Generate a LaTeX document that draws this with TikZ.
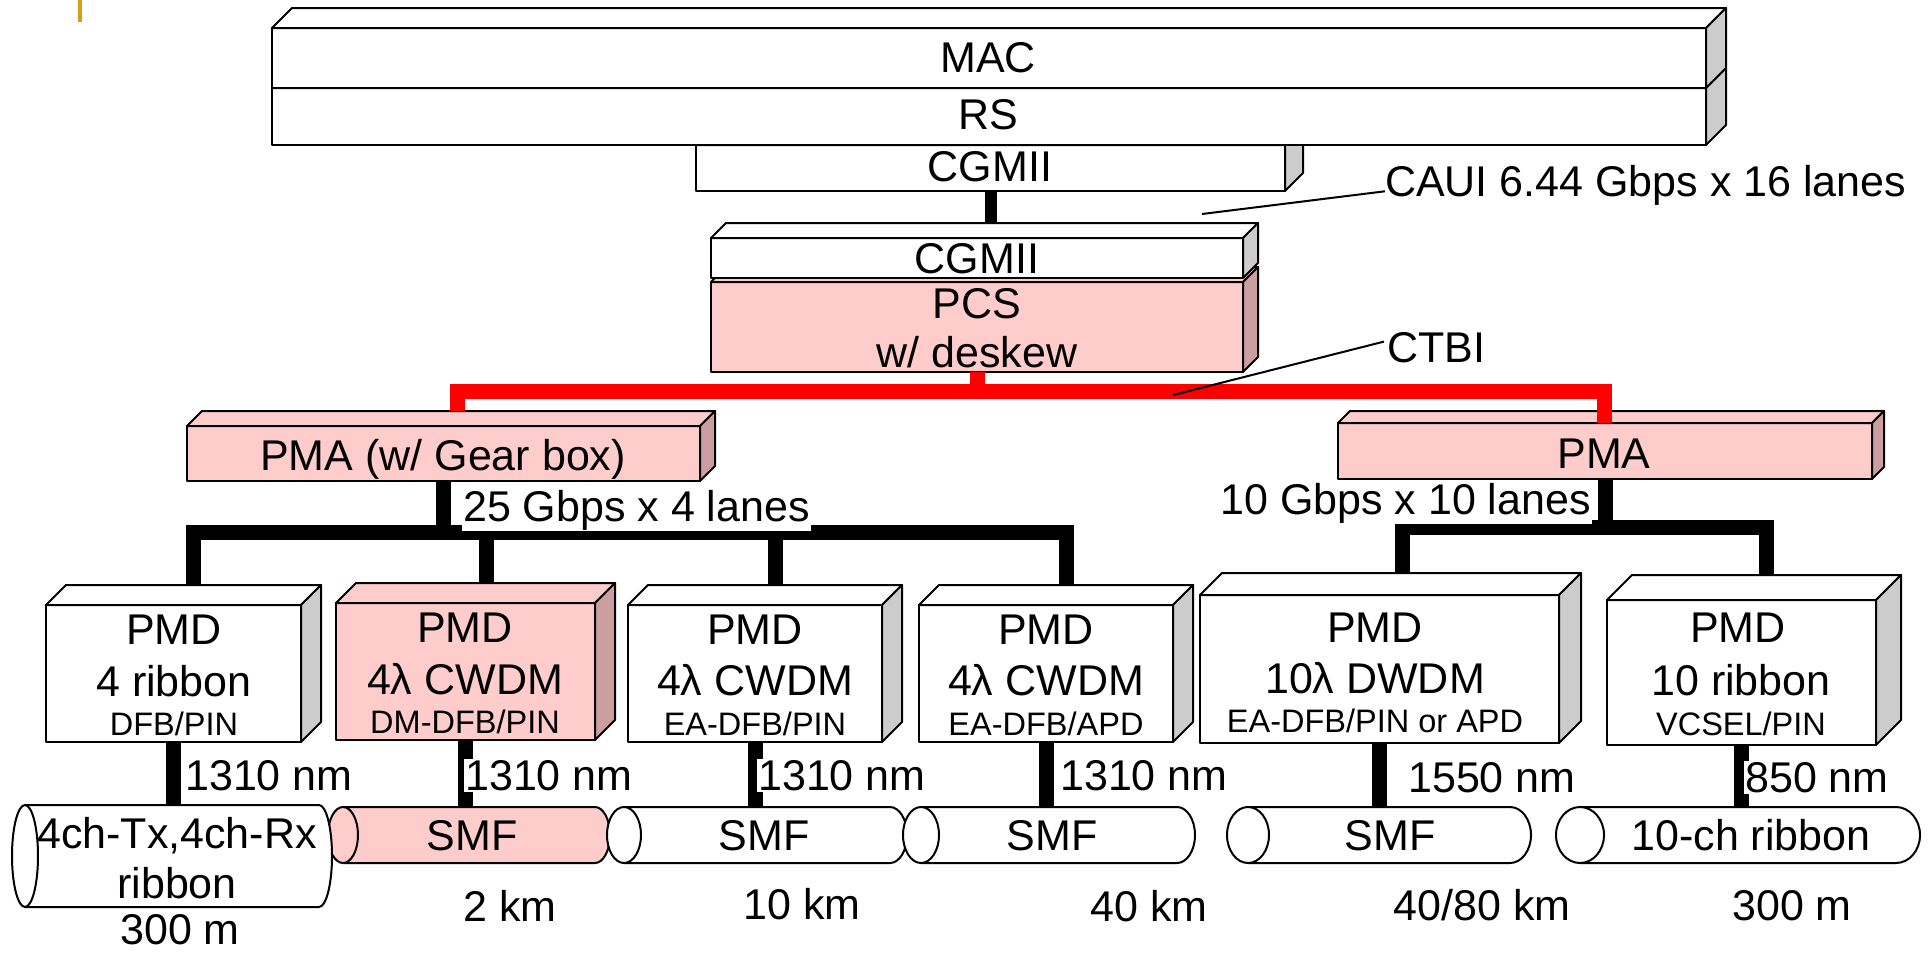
\documentclass[tikz,border=0pt]{standalone}
\usepackage{fontspec}
\setmainfont{Liberation Sans}
\usetikzlibrary{calc}
\definecolor{pinkF}{HTML}{FFCCCC}
\definecolor{pinkS}{HTML}{CB9F9F}
\definecolor{grayS}{HTML}{CCCCCC}
\definecolor{goldline}{HTML}{D4A017}
\tikzset{
  lbl/.style={font=\fontsize{43}{49}\selectfont, inner sep=0pt, anchor=base, yshift=-15.4pt},
  sml/.style={font=\fontsize{32.5}{38}\selectfont, inner sep=0pt, anchor=base, yshift=-11.6pt},
  lblw/.style={font=\fontsize{43}{49}\selectfont, inner sep=1pt, anchor=base west, yshift=-15.4pt},
  face/.style={draw=black, line width=2pt, line join=round},
  blk/.style={line width=15pt, draw=black},
  redl/.style={line width=15pt, draw=red},
  leader/.style={line width=2pt, draw=black},
}
% name, x1, y1, x2, y2, front fill, side fill, depth
\newcommand{\cubebox}[8]{%
  \node[face, fill=#6, anchor=north west, minimum width={#4pt-#2pt}, minimum height={#5pt-#3pt}, inner sep=0pt, outer sep=0pt] (#1) at (#2,#3) {};
  \filldraw[face, fill=#6] (#1.north west) -- ++(#8,-#8) -- ++({#4-#2},0) -- (#1.north east) -- cycle;
  \filldraw[face, fill=#7] (#1.north east) -- ++(#8,-#8) -- ++(0,{#5-#3}) -- (#1.south east) -- cycle;
}
% name, x of left cap centre, x of right end, ytop, ybot, rx, fill
\newcommand{\fiber}[7]{%
  \filldraw[face, fill=#7] (#2,#4) -- ({#3-#6},#4) arc[start angle=-90, end angle=90, x radius=#6, y radius={(#5-#4)/2}] -- (#2,#5) -- cycle;
  \filldraw[face, fill=#7] (#2,{(#4+#5)/2}) ellipse[x radius=#6, y radius={(#5-#4)/2}];
  \node[inner sep=0pt, outer sep=0pt, minimum width={#3pt-#2pt}, minimum height={#5pt-#4pt}, anchor=north west] (#1) at (#2,#4) {};
}
\begin{document}
\begin{tikzpicture}[x=1pt,y=-1pt]
\useasboundingbox (0,0) rectangle (1932,953);
% corner mark
\coordinate (g1) at (80,0);
\coordinate (g2) at (80,22);
\draw[goldline, line width=4pt] (g1) -- (g2);

% junction points
\coordinate (bl1) at (193,532);
\coordinate (bl2) at (486,532);
\coordinate (bl3) at (775,532);
\coordinate (bl4) at (1066,532);
\coordinate (br1) at (1402,527);
\coordinate (br2) at (1766,527);
\coordinate (rl) at (457,391);
\coordinate (rr) at (1604,391);

% upper stack
\cubebox{cgA}{696}{145}{1285}{191}{white}{grayS}{18}
\cubebox{rs}{272}{88}{1706}{145}{white}{grayS}{20}
\cubebox{mac}{272}{28}{1706}{88}{white}{grayS}{20}
\cubebox{pcs}{711}{282}{1243}{372}{pinkF}{pinkS}{15}
\cubebox{cgB}{711}{238}{1243}{278}{white}{grayS}{15}

% PMA boxes
\cubebox{pmaL}{187}{426}{700}{481}{pinkF}{pinkS}{15}
\cubebox{pmaR}{1338}{423}{1872}{479}{pinkF}{pinkS}{12}

% PMD boxes
\cubebox{pmd1}{46}{605}{301}{742}{white}{grayS}{20}
\cubebox{pmd2}{336}{603}{595}{740}{pinkF}{pinkS}{20}
\cubebox{pmd3}{628}{605}{882}{742}{white}{grayS}{20}
\cubebox{pmd4}{919}{605}{1173}{742}{white}{grayS}{20}
\cubebox{pmd5}{1200}{595}{1559}{743}{white}{grayS}{22}
\cubebox{pmd6}{1607}{600}{1876}{745}{white}{grayS}{25}

% black trees: end at the back edge of the PMD top faces
\coordinate (t1) at ($(pmd1.north)+(0,-20)$);
\coordinate (t2) at ($(pmd2.north)+(0,-20)$);
\coordinate (t3) at ($(pmd3.north)+(0,-20)$);
\coordinate (t4) at ($(pmd4.north)+(0,-20)$);
\coordinate (t5) at ($(pmd5.north)+(0,-22)$);
\coordinate (t6) at ($(pmd6.north)+(0,-25)$);
\draw[blk] (t1 -| bl1) -- (bl1) -- (bl4) -- (t4 -| bl4);
\draw[blk] (bl2) -- (t2 -| bl2);
\draw[blk] (bl3) -- (t3 -| bl3);
\draw[blk] (pmaL.south) -- (pmaL.south |- bl1);
\draw[blk] (t5 -| br1) -- (br1) -- (br2) -- (t6 -| br2);
\draw[blk] (pmaR.south) -- (pmaR.south |- br1);

% CGMII link
\coordinate (cgBtop) at ($(cgB.north)+(0,-15)$);
\draw[line width=12pt] (cgA.south) -- (cgA.south |- cgBtop);

% red CTBI links
\coordinate (pmaLtop) at ($(pmaL.north)+(0,-15)$);
\draw[redl] (pcs.south) -- (pcs.south |- rl);
\draw[redl] (rl |- pmaLtop) -- (rl) -- (rr) -- (pmaR.north -| rr);

% box texts
\node[lbl] (macT) at (988,57) {MAC};
\node[lbl] (rsT) at (988,114) {RS};
\node[lbl] (cgAT) at (990,166) {CGMII};
\node[lbl] (cgBT) at (977,258) {CGMII};
\node[lbl] (pcsT) at (977,303) {PCS};
\node[lbl] (pcsT2) at (977,352) {w/ deskew};
\node[lbl] (pmaLT) at (443,455) {PMA (w/ Gear box)};
\node[lbl] (pmaRT) at (1604,453) {PMA};

\node[lbl] (p1a) at (174,629) {PMD};
\node[lbl] (p1b) at (174,681) {4 ribbon};
\node[sml] (p1c) at (174,724) {DFB/PIN};
\node[lbl] (p2a) at (465,627) {PMD};
\node[lbl] (p2b) at (465,679) {4λ CWDM};
\node[sml] (p2c) at (465,722) {DM-DFB/PIN};
\node[lbl] (p3a) at (755,629) {PMD};
\node[lbl] (p3b) at (755,680) {4λ CWDM};
\node[sml] (p3c) at (755,724) {EA-DFB/PIN};
\node[lbl] (p4a) at (1046,629) {PMD};
\node[lbl] (p4b) at (1046,680) {4λ CWDM};
\node[sml] (p4c) at (1046,724) {EA-DFB/APD};
\node[lbl] (p5a) at (1375,627) {PMD};
\node[lbl] (p5b) at (1375,678) {10λ DWDM};
\node[sml] (p5c) at (1375,721) {EA-DFB/PIN or APD};
\node[lbl] (p6a) at (1738,627) {PMD};
\node[lbl] (p6b) at (1741,680) {10 ribbon};
\node[sml] (p6c) at (1741,724) {VCSEL/PIN};

% interface labels with leaders
\node[lblw, inner sep=0pt] (caui) at (1385,181) {CAUI 6.44 Gbps x 16 lanes};
\coordinate (cauiP) at (1202,214);
\draw[leader] (cauiP) -- ($(caui.west)+(0,6)$);
\node[lblw, inner sep=0pt] (ctbi) at (1387,347) {CTBI};
\coordinate (ctbiP) at (1173,395);
\draw[leader] (ctbiP) -- ($(ctbi.west)+(-3,-6)$);

\node[lblw, fill=white] (lanesL) at (462,506) {25 Gbps x 4 lanes};
\node[lblw, fill=white, anchor=base east] (lanesR) at (1592,499) {10 Gbps x 10 lanes};

% fibres
\fiber{f2}{343}{610}{807}{863}{15}{pinkF}
\fiber{f1}{25}{332}{805}{907}{13}{white}
\fiber{f3}{624}{907}{807}{863}{17}{white}
\fiber{f4}{921}{1195}{807}{863}{18}{white}
\fiber{f5}{1248}{1531}{807}{863}{21}{white}
\fiber{f6}{1580}{1920}{807}{863}{24}{white}

% PMD to fibre links
\draw[blk] (pmd1.south) -- (pmd1.south |- f1.north);
\draw[blk] (pmd2.south) -- (pmd2.south |- f2.north);
\draw[blk] (pmd3.south) -- (pmd3.south |- f3.north);
\draw[blk] (pmd4.south) -- (pmd4.south |- f4.north);
\draw[blk] (pmd5.south) -- (pmd5.south |- f5.north);
\draw[blk] (pmd6.south) -- (pmd6.south |- f6.north);

% wavelengths
\node[lblw, fill=white] (w1) at (184,775) {1310 nm};
\node[lblw, fill=white] (w2) at (464,775) {1310 nm};
\node[lblw, fill=white] (w3) at (757,775) {1310 nm};
\node[lblw, fill=white] (w4) at (1059,775) {1310 nm};
\node[lblw, fill=white] (w5) at (1407,777) {1550 nm};
\node[lblw, fill=white] (w6) at (1744,777) {850 nm};

% fibre texts
\node[lbl] (f1a) at (177,833) {4ch-Tx,4ch-Rx};
\node[lbl] (f1b) at (177,883) {ribbon};
\node[lbl] (f2t) at (472,835) {SMF};
\node[lbl] (f3t) at (764,835) {SMF};
\node[lbl] (f4t) at (1052,835) {SMF};
\node[lbl] (f5t) at (1390,835) {SMF};
\node[lbl] (f6t) at (1751,835) {10-ch ribbon};

% distances
\node[lbl] (d1) at (180,929) {300 m};
\node[lbl] (d2) at (510,906) {2 km};
\node[lbl] (d3) at (802,904) {10 km};
\node[lbl] (d4) at (1149,906) {40 km};
\node[lbl] (d5) at (1482,905) {40/80 km};
\node[lbl] (d6) at (1792,905) {300 m};
\end{tikzpicture}
\end{document}
